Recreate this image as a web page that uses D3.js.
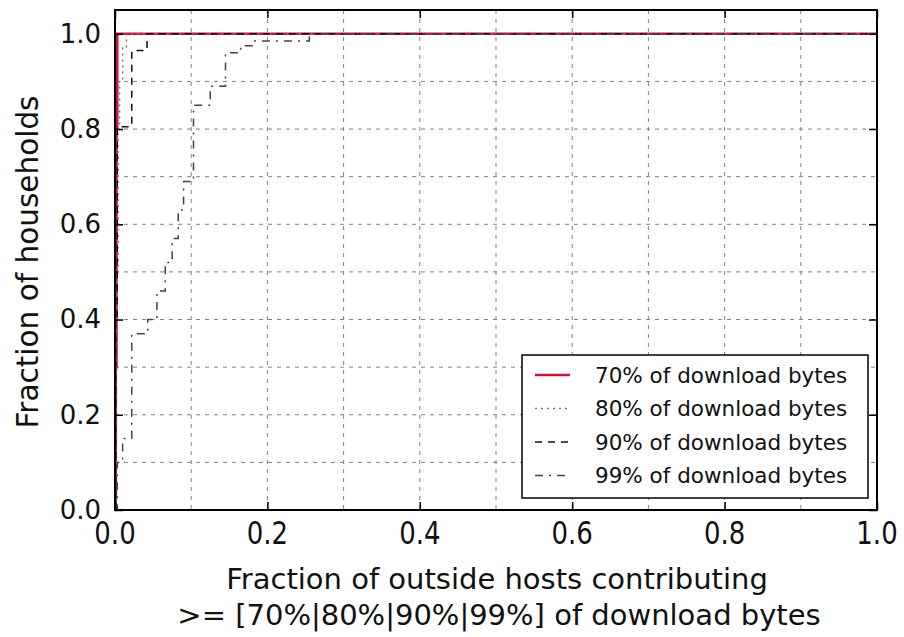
<!DOCTYPE html>
<html>
<head>
<meta charset="utf-8">
<script src="https://cdn.jsdelivr.net/npm/d3@7"></script>
<style>
  html, body { margin: 0; padding: 0; background: #fff; }
  svg { display: block; }
  text { font-family: "DejaVu Sans", sans-serif; fill: #111; }
</style>
</head>
<body>
<svg id="chart" width="904" height="637"></svg>
<script>
// ---- data ----
const seriesNames = ["70% of download bytes", "80% of download bytes", "90% of download bytes", "99% of download bytes"];
const x70 = [0, 0.001, 0.002, 0.003, 1.0];
const y70 = [0, 0.3, 0.8, 1.0, 1.0];
const x80 = [0, 0.002, 0.004, 0.006, 0.01, 0.015, 1.0];
const y80 = [0, 0.5, 0.8, 0.9, 0.97, 1.0, 1.0];
const x90 = [0, 0.001, 0.003, 0.022, 0.042, 1.0];
const y90 = [0, 0.4, 0.805, 0.965, 1.0, 1.0];
const x99 = [0, 0.003, 0.01, 0.022, 0.043, 0.055, 0.066, 0.075, 0.083, 0.09, 0.103, 0.125, 0.145, 0.165, 0.18, 0.255, 1.0];
const y99 = [0, 0.1, 0.15, 0.37, 0.40, 0.46, 0.52, 0.57, 0.63, 0.69, 0.85, 0.89, 0.96, 0.975, 0.985, 1.0, 1.0];
const xTicks = [0, 0.2, 0.4, 0.6, 0.8, 1.0];
const yTicks = [0, 0.2, 0.4, 0.6, 0.8, 1.0];
const gridVals = [0.1, 0.2, 0.3, 0.4, 0.5, 0.6, 0.7, 0.8, 0.9];
const xTitle = ["Fraction of outside hosts contributing", ">= [70%|80%|90%|99%] of download bytes"];
const yTitle = "Fraction of households";

// ---- layout ----
const svg = d3.select("#chart");
const L = 115, R = 877, T = 10, B = 510;
const x = d3.scaleLinear().domain([0, 1]).range([L, R]);
const y = d3.scaleLinear().domain([0, 1.05]).range([B, T]);
const fmt = d3.format(".1f");

// grid
const g = svg.append("g");
g.selectAll("line.gx").data(gridVals).join("line")
  .attr("x1", d => x(d)).attr("x2", d => x(d)).attr("y1", T).attr("y2", B)
  .attr("stroke", "#808080").attr("stroke-width", 1).attr("stroke-dasharray", "4,5");
g.selectAll("line.gy").data(gridVals.concat([1.0])).join("line")
  .attr("y1", d => y(d)).attr("y2", d => y(d)).attr("x1", L).attr("x2", R)
  .attr("stroke", "#808080").attr("stroke-width", 1).attr("stroke-dasharray", "4,5");

// series
const styles = [
  { color: "#c8143c", width: 2.5, dash: null },
  { color: "#777", width: 1.5, dash: "2,4" },
  { color: "#111", width: 1.5, dash: "7,6" },
  { color: "#444", width: 1.5, dash: "8,6,2,6" }
];
const seriesX = [x70, x80, x90, x99];
const seriesY = [y70, y80, y90, y99];
const line = d3.line().x(d => x(d[0])).y(d => y(d[1])).curve(d3.curveStepAfter);
seriesX.forEach((xs, i) => {
  const pts = xs.map((v, j) => [v, seriesY[i][j]]);
  svg.append("path").datum(pts)
    .attr("d", line)
    .attr("fill", "none")
    .attr("stroke", styles[i].color)
    .attr("stroke-width", styles[i].width)
    .attr("stroke-dasharray", styles[i].dash);
});

// axes with inward ticks on all sides
const xAxB = d3.axisBottom(x).tickValues(xTicks).tickSize(-8).tickFormat("");
const xAxT = d3.axisTop(x).tickValues(xTicks).tickSize(-8).tickFormat("");
const yAxL = d3.axisLeft(y).tickValues(yTicks).tickSize(-8).tickPadding(14).tickFormat(fmt);
const yAxR = d3.axisRight(y).tickValues(yTicks).tickSize(-8).tickFormat("");

function styleAxis(sel) {
  sel.select(".domain").remove();
  sel.selectAll(".tick line").attr("stroke", "#000").attr("stroke-width", 1.5);
  sel.selectAll("text").attr("font-family", "DejaVu Sans").attr("fill", "#111").attr("font-size", 26);
}
svg.append("g").attr("transform", `translate(0,${B})`).call(xAxB).call(styleAxis);
svg.append("g").attr("transform", `translate(0,${T})`).call(xAxT).call(styleAxis);
svg.append("g").attr("transform", `translate(${L},0)`).call(yAxL).call(styleAxis);
svg.append("g").attr("transform", `translate(${R},0)`).call(yAxR).call(styleAxis);

// x tick labels (vertically stretched like the reference)
svg.append("g").selectAll("text").data(xTicks).join("text")
  .attr("transform", d => `translate(${x(d)},533) scale(1,1.2)`)
  .attr("text-anchor", "middle").attr("dy", "0.36em")
  .attr("font-size", 26).text(d => fmt(d));

// frame
svg.append("rect").attr("x", L).attr("y", T).attr("width", R - L).attr("height", B - T)
  .attr("fill", "none").attr("stroke", "#000").attr("stroke-width", 2);

// legend
const lg = svg.append("g");
lg.append("rect").attr("x", 522).attr("y", 355).attr("width", 346).attr("height", 143)
  .attr("fill", "#fff").attr("stroke", "#000").attr("stroke-width", 1.5);
seriesNames.forEach((name, i) => {
  const cy = 375 + i * 33.5;
  lg.append("line").attr("x1", 535).attr("x2", 570).attr("y1", cy).attr("y2", cy)
    .attr("stroke", styles[i].color).attr("stroke-width", styles[i].width)
    .attr("stroke-dasharray", styles[i].dash);
  lg.append("text").attr("x", 595).attr("y", cy).attr("dy", "0.36em")
    .attr("font-size", 21.5).text(name);
});

// titles
svg.append("text").attr("x", 497).attr("y", 579).attr("dy", "0.36em")
  .attr("text-anchor", "middle").attr("font-size", 29).text(xTitle[0]);
svg.append("text").attr("x", 499).attr("y", 615).attr("dy", "0.36em")
  .attr("text-anchor", "middle").attr("font-size", 29).text(xTitle[1]);
svg.append("text").attr("transform", "translate(27,262) rotate(-90)").attr("dy", "0.36em")
  .attr("text-anchor", "middle").attr("font-size", 29.5).text(yTitle);
</script>
</body>
</html>
